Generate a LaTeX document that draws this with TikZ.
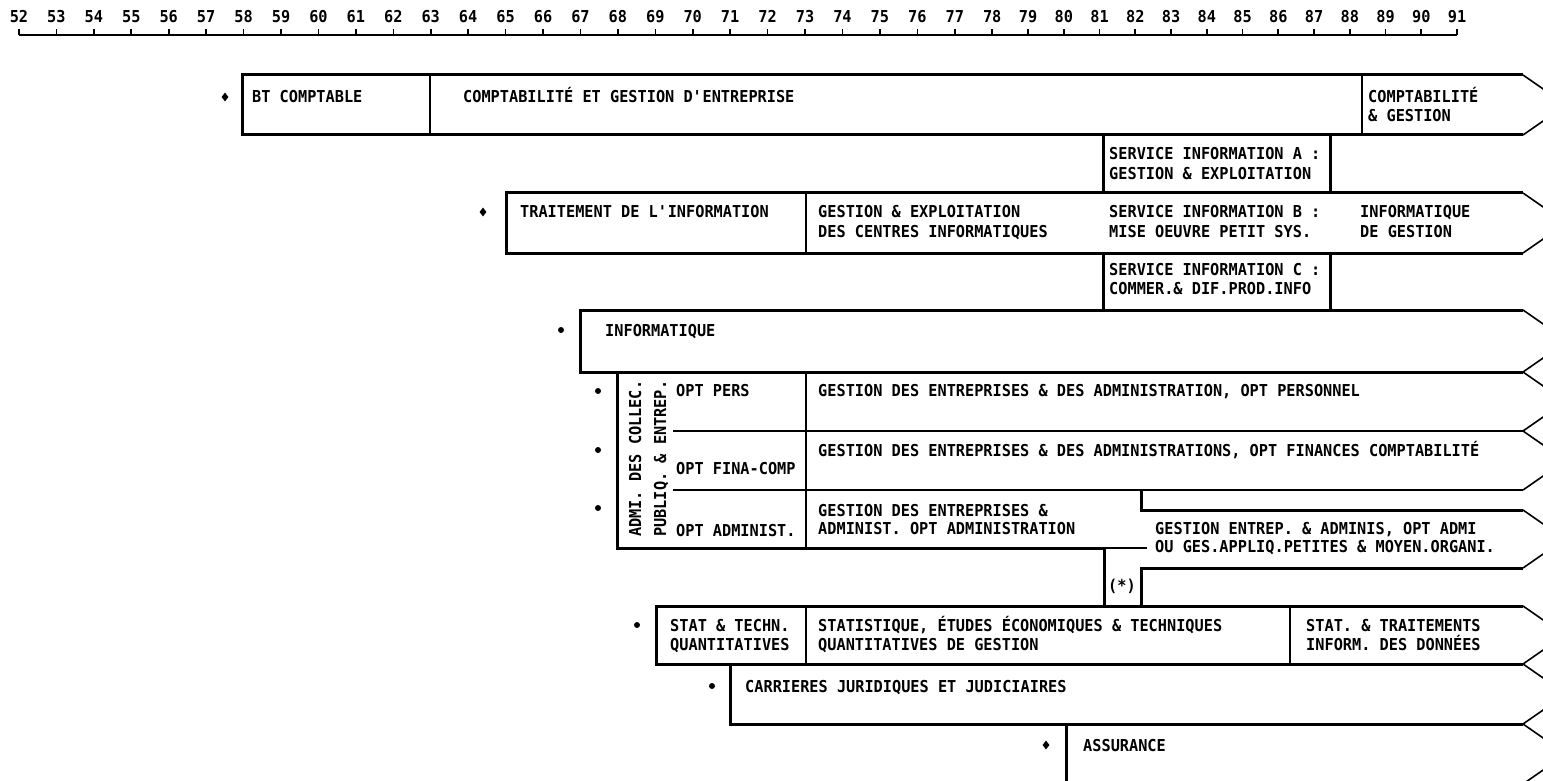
\documentclass[tikz,border=0pt]{standalone}
\usepackage{fontspec}
\setmainfont{DejaVu Sans Mono}[FakeStretch=0.93]
\usetikzlibrary{shapes.geometric}
\newcommand\chev[2]{\draw[chevl] (1523,#1) -- ({1523+0.72*(#2-#1)},{(#1+#2)/2}) -- (1523,#2);}
\newcommand\tl[4]{\node[txt] (#1) at (#2,#3+6) {#4};}
\begin{document}
\begin{tikzpicture}[x=1pt,y=-1pt,
  bord/.style={line width=3pt, line join=miter},
  midl/.style={line width=2.2pt},
  divl/.style={line width=1.6pt},
  chevl/.style={line width=1.6pt},
  axisl/.style={line width=1.6pt},
  txt/.style={anchor=base west, inner sep=0pt, font=\bfseries\fontsize{16.4}{19}\selectfont},
  dot/.style={circle, fill, inner sep=0pt, minimum size=6pt},
  dia/.style={diamond, fill, inner sep=0pt, minimum width=7pt, minimum height=9pt}]
\useasboundingbox (0,0) rectangle (1543,781);
\clip (0,0) rectangle (1543,781);
% time axis
\draw[axisl] (19,35) -- (1457,35);
\foreach \n in {52,...,91}{
  \pgfmathsetmacro\xx{\n<79 ? 19+37.43*(\n-52) : 1028+35.75*(\n-79)}
  \draw[axisl] (\xx,35) -- (\xx,29.5);
  \node[txt, anchor=base] (yr\n) at (\xx,23) {\n};
}
% Row 1
\draw[bord] (1523,75) -- (242,75) -- (242,135) -- (1523,135);
\draw[divl] (430,75) -- (430,135) (1362,75) -- (1362,135);
\chev{75}{135}
% Box A
\draw[bord] (1103,135) -- (1103,193) (1330,135) -- (1330,193);
% Row 2
\draw[bord] (1523,193) -- (506,193) -- (506,253) -- (1523,253);
\draw[divl] (806,193) -- (806,253);
\chev{193}{253}
% Box C
\draw[bord] (1103,253) -- (1103,310) (1330,253) -- (1330,310);
% Row 3
\draw[bord] (1523,310) -- (580,310) -- (580,372) -- (1523,372);
\chev{310}{372}
% ADMI block
\draw[bord] (617,372) -- (617,548) -- (1104,548);
\draw[divl] (1104,548) -- (1147,548);
\draw[divl] (673,431) -- (806,431) (673,490) -- (806,490);
\draw[midl] (806,431) -- (1523,431) (806,490) -- (1523,490);
\draw[divl] (806,372) -- (806,548);
\chev{372}{431}
\chev{431}{490}
\draw[bord] (1141,490) -- (1141,510) -- (1523,510);
\chev{510}{568}
\draw[bord] (1523,568) -- (1141,568) -- (1141,606);
\draw[bord] (1104,548) -- (1104,606);
% STAT
\draw[bord] (1523,606) -- (656,606) -- (656,664) -- (1523,664);
\draw[divl] (806,606) -- (806,664) (1290,606) -- (1290,664);
\chev{606}{664}
% CARRIERES
\draw[bord] (730,664) -- (730,724) -- (1523,724);
\chev{664}{724}
% ASSURANCE
\draw[bord] (1066,724) -- (1066,790);
\chev{724}{784}
% bullets
\node[dia] (b1) at (225,97) {};
\node[dia] (b2) at (483,212) {};
\node[dot] (b3) at (561,330) {};
\node[dot] (b4) at (598,391) {};
\node[dot] (b5) at (598,450) {};
\node[dot] (b6) at (598,508) {};
\node[dot] (b7) at (637,625) {};
\node[dot] (b8) at (712,686) {};
\node[dia] (b9) at (1046,745) {};
% texts
\tl{t1}{252}{97}{BT COMPTABLE}
\tl{t2}{463}{97}{COMPTABILITÉ ET GESTION D\textquotesingle ENTREPRISE}
\tl{t3}{1368}{97}{COMPTABILITÉ}
\tl{t4}{1368}{116}{\& GESTION}
\tl{t5}{1109}{154}{SERVICE INFORMATION A :}
\tl{t6}{1109}{173}{GESTION \& EXPLOITATION}
\tl{t7}{520}{212}{TRAITEMENT DE L\textquotesingle INFORMATION}
\tl{t8}{818}{212}{GESTION \& EXPLOITATION}
\tl{t9}{818}{231}{DES CENTRES INFORMATIQUES}
\tl{t10}{1109}{212}{SERVICE INFORMATION B :}
\tl{t11}{1109}{231}{MISE OEUVRE PETIT SYS.}
\tl{t12}{1360}{212}{INFORMATIQUE}
\tl{t13}{1360}{231}{DE GESTION}
\tl{t14}{1109}{269}{SERVICE INFORMATION C :}
\tl{t15}{1109}{288}{COMMER.\& DIF.PROD.INFO}
\tl{t16}{605}{330}{INFORMATIQUE}
\tl{t17}{676}{390}{OPT PERS}
\tl{t18}{818}{390}{GESTION DES ENTREPRISES \& DES ADMINISTRATION, OPT PERSONNEL}
\tl{t19}{818}{450}{GESTION DES ENTREPRISES \& DES ADMINISTRATIONS, OPT FINANCES COMPTABILITÉ}
\tl{t20}{676}{468}{OPT FINA-COMP}
\tl{t21}{818}{510}{GESTION DES ENTREPRISES \&}
\tl{t22}{818}{528}{ADMINIST. OPT ADMINISTRATION}
\tl{t23}{676}{530}{OPT ADMINIST.}
\tl{t24}{1155}{528}{GESTION ENTREP. \& ADMINIS, OPT ADMI}
\tl{t25}{1155}{546}{OU GES.APPLIQ.PETITES \& MOYEN.ORGANI.}
\node[txt, anchor=base] (star) at (1122,591) {(*)};
\tl{t26}{670}{625}{STAT \& TECHN.}
\tl{t27}{670}{644}{QUANTITATIVES}
\tl{t28}{818}{625}{STATISTIQUE, ÉTUDES ÉCONOMIQUES \& TECHNIQUES}
\tl{t29}{818}{644}{QUANTITATIVES DE GESTION}
\tl{t30}{1306}{625}{STAT. \& TRAITEMENTS}
\tl{t31}{1306}{644}{INFORM. DES DONNÉES}
\tl{t32}{745}{686}{CARRIERES JURIDIQUES ET JUDICIAIRES}
\tl{t33}{1083}{745}{ASSURANCE}
\node[txt, rotate=90] (v1) at (641,537) {ADMI. DES COLLEC.};
\node[txt, rotate=90] (v2) at (666,537) {PUBLIQ. \& ENTREP.};
\end{tikzpicture}
\end{document}
